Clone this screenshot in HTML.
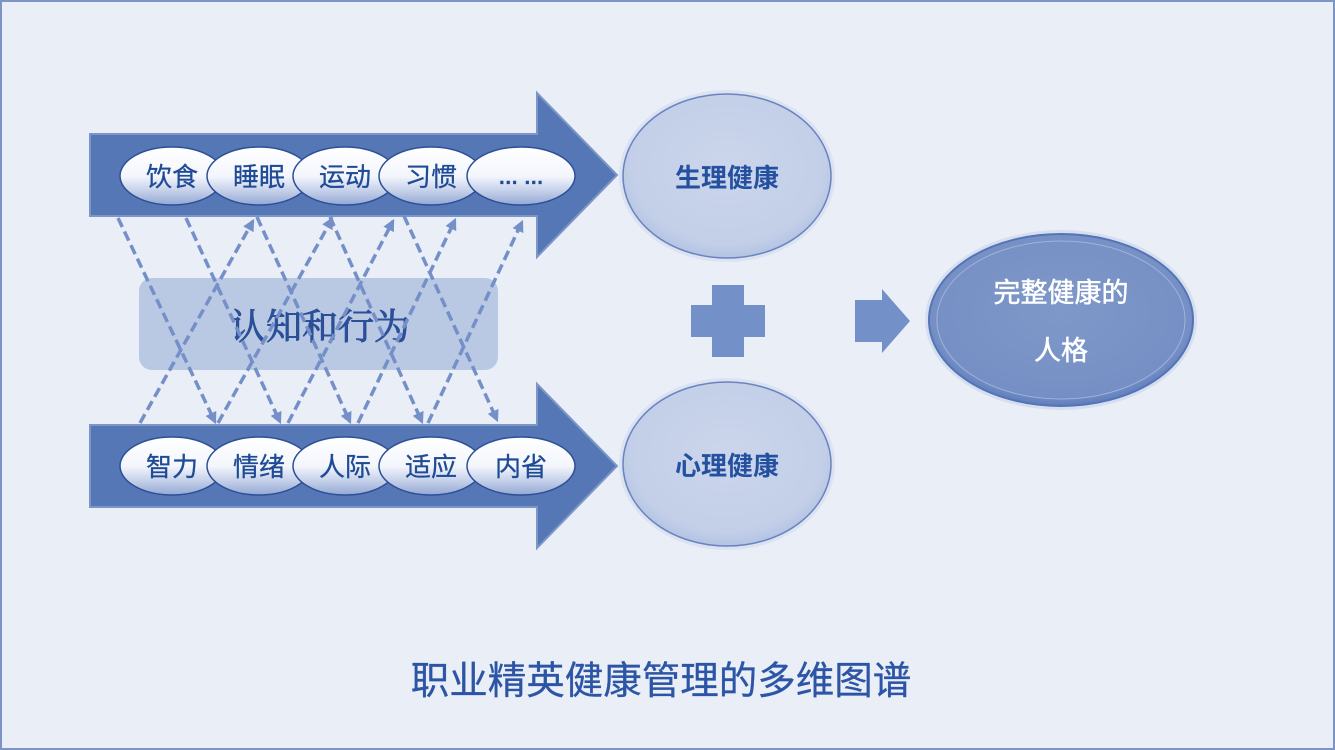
<!DOCTYPE html>
<html><head><meta charset="utf-8"><style>
html,body{margin:0;padding:0;width:1335px;height:750px;overflow:hidden;background:#eaeef7;}
svg{display:block}
.t{font-family:"Liberation Sans","Noto Sans CJK SC",sans-serif;}
</style></head><body>
<svg width="1335" height="750" viewBox="0 0 1335 750" xmlns="http://www.w3.org/2000/svg">
<defs>
<linearGradient id="eg" x1="0" y1="0" x2="0" y2="1">
<stop offset="0" stop-color="#ffffff"/><stop offset="0.5" stop-color="#f3f6fc"/><stop offset="0.78" stop-color="#c0cce7"/><stop offset="1" stop-color="#93a8d4"/>
</linearGradient>
<radialGradient id="cg" cx="0.5" cy="0.45" r="0.55">
<stop offset="0" stop-color="#cbd6ec"/><stop offset="0.85" stop-color="#c3cfe8"/><stop offset="1" stop-color="#b3c3e3"/>
</radialGradient>
<radialGradient id="bg2" cx="0.5" cy="0.45" r="0.55">
<stop offset="0" stop-color="#7e98c9"/><stop offset="0.9" stop-color="#7690c5"/><stop offset="1" stop-color="#5c7cbc"/>
</radialGradient>
<marker id="ah" viewBox="0 0 10 10" refX="8" refY="5" markerWidth="3.4" markerHeight="3.4" orient="auto" markerUnits="strokeWidth">
<path d="M0,0 L10,5 L0,10 z" fill="#7590c8"/>
</marker>
</defs>
<rect x="1" y="1" width="1333" height="748" fill="#eaeef7" stroke="#7d95c6" stroke-width="2"/>

<!-- top arrow -->
<path d="M90,134 H537 V93 L617,175 L537,257 V216 H90 Z" fill="#5677b5" stroke="#7d96c8" stroke-width="2"/>
<!-- bottom arrow -->
<path d="M90,425 H537 V384 L617,466 L537,548 V507 H90 Z" fill="#5677b5" stroke="#7d96c8" stroke-width="2"/>

<!-- rounded rect -->
<rect x="139" y="278" width="359" height="92" rx="13" fill="#b9c8e3"/>
<text x="320" y="339" text-anchor="middle" font-family="'Liberation Serif','Noto Serif CJK SC',serif" font-size="36" fill="#2b4f98" stroke="#2b4f98" stroke-width="0.9">认知和行为</text>

<!-- dashed lines -->
<g stroke="#7590c8" stroke-width="3.5" stroke-dasharray="10 5" fill="none" marker-end="url(#ah)">
<line x1="118" y1="218" x2="215" y2="422"/>
<line x1="186" y1="218" x2="280" y2="422"/>
<line x1="257" y1="217" x2="350" y2="422"/>
<line x1="330" y1="217" x2="422" y2="422"/>
<line x1="404" y1="216" x2="497" y2="420"/>
<line x1="140" y1="423" x2="253" y2="221"/>
<line x1="218" y1="423" x2="332" y2="219"/>
<line x1="288" y1="423" x2="393" y2="221"/>
<line x1="358" y1="423" x2="455" y2="220"/>
<line x1="428" y1="423" x2="522" y2="222"/>
</g>

<!-- top ellipses -->
<g stroke="#2c4f96" stroke-width="1.5" fill="url(#eg)">
<ellipse cx="172" cy="176" rx="52" ry="29"/>
<ellipse cx="259" cy="176" rx="52" ry="29"/>
<ellipse cx="345" cy="176" rx="52" ry="29"/>
<ellipse cx="431" cy="176" rx="52" ry="29"/>
<ellipse cx="521" cy="176" rx="54" ry="29"/>
</g>
<g class="t" font-size="26" fill="#1f4a96" text-anchor="middle" stroke="#1f4a96" stroke-width="0.3">
<text x="172" y="186">饮食</text>
<text x="259" y="186">睡眠</text>
<text x="345" y="186">运动</text>
<text x="431" y="186">习惯</text>
<text x="521" y="184" font-size="20" font-weight="bold">… …</text>
</g>

<!-- bottom ellipses -->
<g stroke="#2c4f96" stroke-width="1.5" fill="url(#eg)">
<ellipse cx="172" cy="466" rx="52" ry="29"/>
<ellipse cx="259" cy="466" rx="52" ry="29"/>
<ellipse cx="345" cy="466" rx="52" ry="29"/>
<ellipse cx="431" cy="466" rx="52" ry="29"/>
<ellipse cx="521" cy="466" rx="54" ry="29"/>
</g>
<g class="t" font-size="26" fill="#1f4a96" text-anchor="middle" stroke="#1f4a96" stroke-width="0.3">
<text x="172" y="476">智力</text>
<text x="259" y="476">情绪</text>
<text x="345" y="476">人际</text>
<text x="431" y="476">适应</text>
<text x="521" y="476">内省</text>
</g>

<!-- circles -->
<ellipse cx="727" cy="176" rx="108" ry="86" fill="#dbe3f2"/>
<ellipse cx="727" cy="176" rx="104" ry="82" fill="url(#cg)" stroke="#6a84c0" stroke-width="1.5"/>
<text class="t" x="727" y="187" text-anchor="middle" font-size="26" font-weight="bold" fill="#2450a0">生理健康</text>
<ellipse cx="727" cy="464" rx="108" ry="86" fill="#dbe3f2"/>
<ellipse cx="727" cy="464" rx="104" ry="82" fill="url(#cg)" stroke="#6a84c0" stroke-width="1.5"/>
<text class="t" x="727" y="475" text-anchor="middle" font-size="26" font-weight="bold" fill="#2450a0">心理健康</text>

<!-- plus -->
<path d="M712,285 H744 V305 H765 V337 H744 V357 H712 V337 H691 V305 H712 Z" fill="#7490c8"/>
<!-- right arrow -->
<path d="M855,300 H882 V289 L910,321 L882,353 V342 H855 Z" fill="#7490c8"/>

<!-- big ellipse -->
<ellipse cx="1061" cy="320" rx="136" ry="90" fill="#d6dff0"/>
<ellipse cx="1061" cy="320" rx="132" ry="86" fill="url(#bg2)" stroke="#5574b6" stroke-width="2"/>
<ellipse cx="1061" cy="320" rx="124" ry="79" fill="none" stroke="#9fb3da" stroke-width="1"/>
<text class="t" x="1061" y="302" text-anchor="middle" font-size="27" fill="#ffffff" stroke="#ffffff" stroke-width="0.5">完整健康的</text>
<text class="t" x="1061" y="360" text-anchor="middle" font-size="27" fill="#ffffff" stroke="#ffffff" stroke-width="0.5">人格</text>

<!-- title -->
<text class="t" x="661" y="694" text-anchor="middle" font-size="38.5" fill="#2c55a6" stroke="#2c55a6" stroke-width="0.3">职业精英健康管理的多维图谱</text>
</svg>
</body></html>
